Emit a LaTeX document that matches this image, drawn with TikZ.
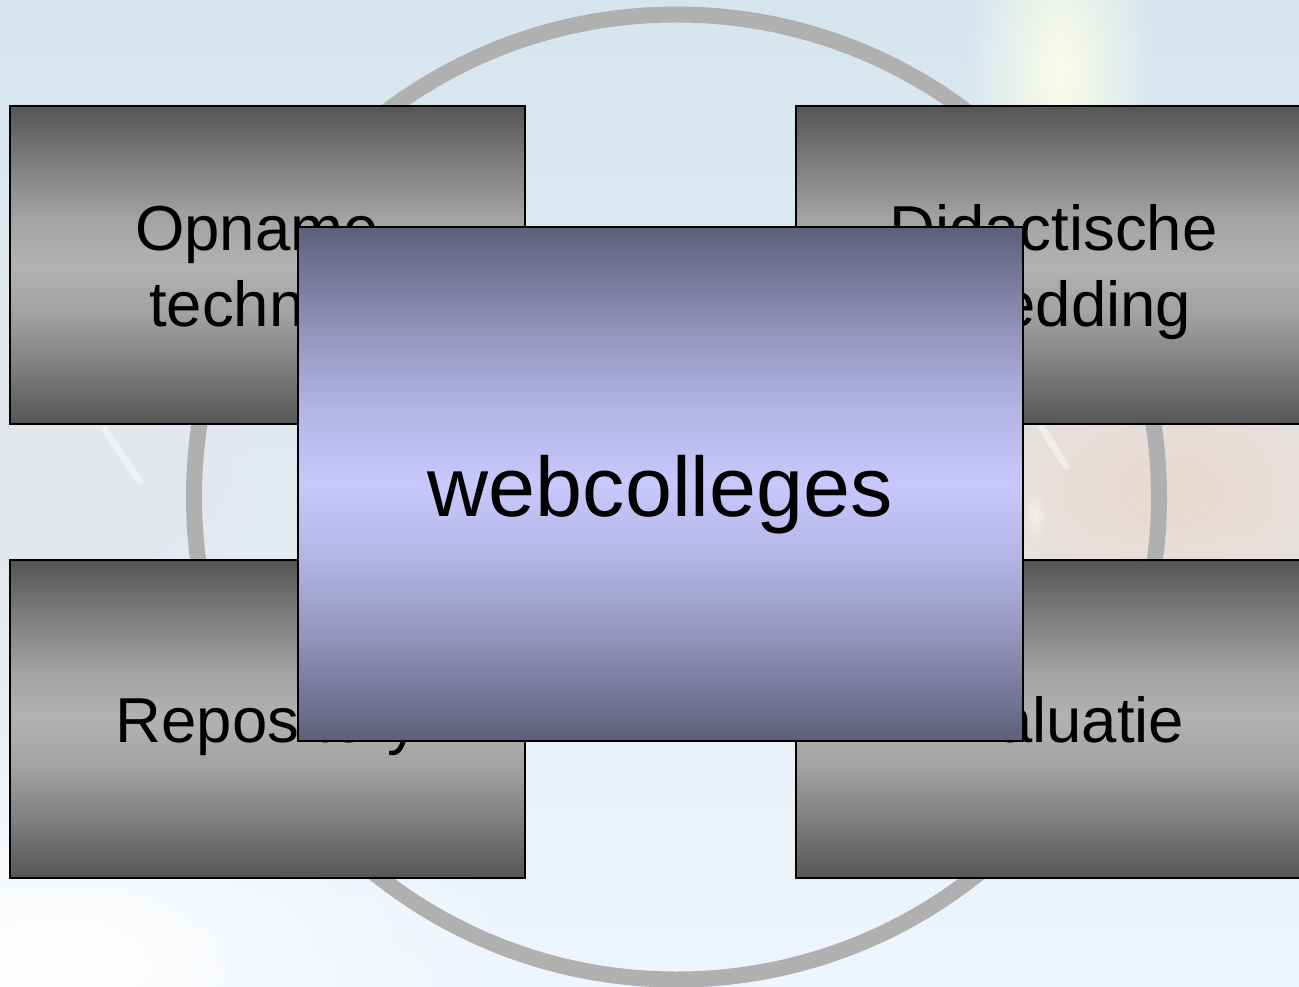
\documentclass[tikz,border=0pt]{standalone}
\usepackage{fontspec}
\setmainfont{Liberation Sans}
\usetikzlibrary{fadings}
\definecolor{bgtop}{HTML}{D5E5EE}
\definecolor{bgbot}{HTML}{EEF5FC}
\definecolor{pinkish}{HTML}{EAD8CE}
\definecolor{grayish}{HTML}{E4E6EA}
\definecolor{glowc}{HTML}{FCFCEA}
\definecolor{ringgray}{HTML}{B0B0B0}
\definecolor{gA}{HTML}{555555}
\definecolor{gB}{HTML}{838383}
\definecolor{gC}{HTML}{A2A2A2}
\definecolor{gD}{HTML}{B2B2B2}
\definecolor{cA}{HTML}{5E5E7A}
\definecolor{cB}{HTML}{9393BB}
\definecolor{cC}{HTML}{B3B3E4}
\definecolor{cD}{HTML}{C8C8FC}
\pgfdeclareverticalshading{grayshade}{100bp}{color(0bp)=(gA); color(25bp)=(gA); color(35bp)=(gB); color(42.5bp)=(gC); color(50bp)=(gD); color(57.5bp)=(gC); color(65bp)=(gB); color(75bp)=(gA); color(100bp)=(gA)}
\pgfdeclareverticalshading{coreshade}{100bp}{color(0bp)=(cA); color(25bp)=(cA); color(35bp)=(cB); color(42.5bp)=(cC); color(50bp)=(cD); color(57.5bp)=(cC); color(65bp)=(cB); color(75bp)=(cA); color(100bp)=(cA)}
\tikzfading[name=softglow, inner color=transparent!0, outer color=transparent!100]
\begin{document}
\begin{tikzpicture}[x=1pt,y=-1pt,
  graybox/.style={rectangle, draw=black, line width=1.5pt, inner sep=0pt, outer sep=0pt,
    minimum width=515pt, minimum height=318pt, shade, shading=grayshade},
  corebox/.style={rectangle, draw=black, line width=1.5pt, inner sep=0pt, outer sep=0pt,
    minimum width=725pt, minimum height=514pt, shade, shading=coreshade},
  btext/.style={anchor=base, inner sep=0pt, text=black, font=\fontsize{63.5}{76}\selectfont},
  ctext/.style={anchor=base, inner sep=0pt, text=black, font=\fontsize{84.5}{101}\selectfont},
  ring/.style={draw=ringgray, line width=16pt}
]
\useasboundingbox (0,0) rectangle (1299,987);
\clip (0,0) rectangle (1299,987);
% background
\shade[top color=bgtop, bottom color=bgbot] (0,0) rectangle (1299,987);
\fill[pinkish, path fading=softglow] (1170,490) ellipse[x radius=360, y radius=240];
\fill[grayish, path fading=softglow] (70,480) ellipse[x radius=360, y radius=270];
\fill[white, path fading=softglow] (60,960) ellipse[x radius=460, y radius=230];
\fill[glowc, path fading=softglow] (1060,70) ellipse[x radius=95, y radius=200];
\draw[white, line width=7pt, opacity=0.45, line cap=round] (105,430) -- (140,482);
\draw[white, line width=7pt, opacity=0.45, line cap=round] (1042,428) -- (1066,466);
\fill[white, opacity=0.5, path fading=softglow] (1035,515) ellipse[x radius=12, y radius=25];
% ring
\draw[ring] (676.5,497) circle[radius=482.5];
% outer boxes
\node[graybox] (tl) at (267.5,265) {};
\node[btext] (tl1) at (267.5,250.5) {Opname-};
\node[btext] (tl2) at (267.5,326.5) {techniek};
\node[graybox] (tr) at (1053.5,265) {};
\node[btext] (tr1) at (1053.5,250.5) {Didactische};
\node[btext] (tr2) at (1053.5,326.5) {inbedding};
\node[graybox] (bl) at (267.5,719) {};
\node[btext] (bl1) at (267.5,742.5) {Repository};
\node[graybox] (br) at (1053.5,719) {};
\node[btext] (br1) at (1053.5,742.5) {Evaluatie};
% centre box
\node[corebox] (core) at (660.5,484) {};
\node[ctext] (core1) at (660.5,516) {webcolleges};
\end{tikzpicture}
\end{document}
